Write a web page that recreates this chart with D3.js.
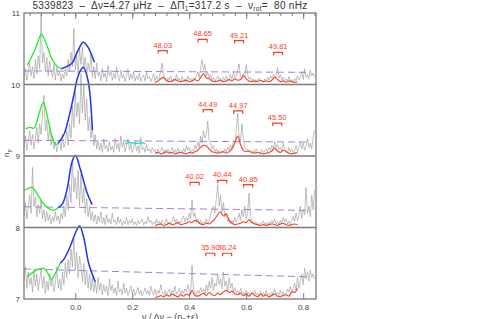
<!DOCTYPE html>
<html lang="en">
<head>
<meta charset="UTF-8">
<title>Period echelle panels</title>
<script src="https://cdn.jsdelivr.net/npm/d3@7"></script>
<style>
  body { margin: 0; background: #fff; }
  text { font-family: Helvetica, "Liberation Sans", Arial, sans-serif; }
</style>
</head>
<body>
<svg id="chart" width="480" height="319"></svg>
<script>
// grey spectrum, sampled from x = -0.18 in steps of 0.005 (height in units of one panel)
const gridStart = -0.18, gridStep = 0.005;
const grey10 = [
  0.10,0.22,0.06,0.18,0.30,0.12,0.25,0.08,0.35,0.15,
  0.40,0.22,1.00,0.30,0.45,0.18,0.38,0.12,0.33,0.20,
  0.10,0.28,0.06,0.24,0.12,0.18,0.05,0.15,0.08,0.22,
  0.12,0.35,0.18,0.45,0.25,0.78,0.20,0.40,0.15,0.50,
  0.28,0.52,0.22,0.38,0.12,0.30,0.18,0.42,0.10,0.25,
  0.08,0.30,0.12,0.18,0.05,0.22,0.10,0.16,0.04,0.26,
  0.12,0.20,0.06,0.16,0.08,0.24,0.10,0.05,0.20,0.09,
  0.14,0.04,0.12,0.22,0.06,0.15,0.08,0.18,0.05,0.12,
  0.07,0.16,0.04,0.10,0.13,0.05,0.18,0.08,0.11,0.04,
  0.09,0.15,0.05,0.12,0.07,0.10,0.18,0.30,0.12,0.08,
  0.04,0.10,0.06,0.12,0.03,0.08,0.05,0.14,0.06,0.09,
  0.04,0.11,0.05,0.08,0.03,0.12,0.06,0.09,0.04,0.10,
  0.07,0.12,0.18,0.10,0.22,0.35,0.20,0.28,0.12,0.18,
  0.08,0.14,0.05,0.10,0.04,0.08,0.12,0.05,0.09,0.03,
  0.10,0.06,0.12,0.05,0.08,0.14,0.07,0.18,0.10,0.12,
  0.20,0.29,0.12,0.08,0.15,0.10,0.28,0.14,0.07,0.10,
  0.05,0.08,0.03,0.07,0.04,0.09,0.05,0.06,0.03,0.08,
  0.05,0.10,0.06,0.12,0.08,0.14,0.10,0.12,0.24,0.09,
  0.14,0.06,0.10,0.04,0.08,0.05,0.11,0.04,0.07,0.03,
  0.08,0.05,0.12,0.06,0.10,0.18,0.07,0.22,0.10,0.14,
  0.08,0.20,0.12,0.16,0.10];
const grey9 = [
  0.12,0.28,0.08,0.22,0.35,0.15,0.30,0.10,0.25,0.40,
  0.18,0.45,0.30,0.60,0.85,0.35,0.50,0.22,0.40,0.15,
  0.28,0.10,0.20,0.06,0.15,0.22,0.08,0.30,0.12,0.18,
  0.35,0.15,0.45,0.25,0.70,0.40,0.90,0.55,0.75,0.45,
  1.15,0.60,1.00,0.50,0.80,0.35,0.55,0.25,0.40,0.15,
  0.30,0.10,0.22,0.08,0.18,0.05,0.24,0.10,0.15,0.06,
  0.20,0.08,0.14,0.05,0.25,0.10,0.18,0.06,0.28,0.12,
  0.20,0.06,0.15,0.24,0.08,0.18,0.05,0.12,0.20,0.07,
  0.14,0.04,0.26,0.09,0.12,0.05,0.16,0.07,0.10,0.04,
  0.12,0.06,0.09,0.03,0.10,0.05,0.08,0.12,0.04,0.09,
  0.05,0.10,0.03,0.07,0.12,0.05,0.09,0.04,0.11,0.06,
  0.08,0.04,0.10,0.06,0.14,0.08,0.12,0.05,0.09,0.07,
  0.15,0.10,0.20,0.12,0.28,0.18,0.35,0.25,0.30,0.49,
  0.22,0.18,0.10,0.14,0.06,0.10,0.05,0.08,0.04,0.07,
  0.05,0.10,0.06,0.12,0.08,0.15,0.10,0.22,0.18,0.35,
  0.60,0.28,0.20,0.45,0.25,0.12,0.08,0.10,0.05,0.07,
  0.04,0.08,0.05,0.10,0.04,0.06,0.03,0.09,0.05,0.07,
  0.10,0.06,0.12,0.08,0.15,0.10,0.20,0.12,0.16,0.09,
  0.12,0.06,0.18,0.10,0.08,0.04,0.12,0.06,0.10,0.05,
  0.08,0.15,0.06,0.12,0.20,0.10,0.18,0.08,0.14,0.24,
  0.12,0.18,0.10,0.26,0.36];
const grey8 = [
  0.18,0.35,0.12,0.28,0.45,0.20,0.84,0.30,0.42,0.15,
  0.32,0.20,0.38,0.12,0.25,0.08,0.22,0.10,0.18,0.05,
  0.15,0.08,0.22,0.10,0.16,0.05,0.20,0.12,0.30,0.15,
  0.45,0.25,0.60,0.35,0.95,0.50,0.70,0.40,0.80,0.30,
  0.75,0.35,0.55,0.20,0.40,0.15,0.30,0.10,0.22,0.08,
  0.18,0.05,0.16,0.08,0.22,0.06,0.14,0.04,0.18,0.07,
  0.12,0.05,0.20,0.08,0.10,0.04,0.15,0.06,0.12,0.03,
  0.09,0.05,0.14,0.04,0.10,0.06,0.12,0.04,0.08,0.03,
  0.10,0.05,0.09,0.12,0.04,0.08,0.05,0.15,0.07,0.10,
  0.04,0.08,0.05,0.12,0.06,0.09,0.04,0.10,0.07,0.05,
  0.12,0.06,0.08,0.04,0.10,0.15,0.07,0.12,0.05,0.09,
  0.06,0.12,0.16,0.08,0.14,0.10,0.20,0.12,0.39,0.15,
  0.20,0.08,0.12,0.05,0.10,0.04,0.08,0.06,0.12,0.05,
  0.10,0.18,0.25,0.30,0.20,0.40,0.60,0.30,0.45,0.22,
  0.35,0.15,0.20,0.08,0.12,0.05,0.10,0.06,0.14,0.08,
  0.12,0.20,0.10,0.25,0.15,0.30,0.12,0.20,0.48,0.14,
  0.10,0.06,0.08,0.04,0.07,0.03,0.06,0.05,0.09,0.04,
  0.07,0.03,0.08,0.05,0.10,0.06,0.12,0.05,0.08,0.04,
  0.10,0.06,0.14,0.08,0.12,0.05,0.09,0.04,0.10,0.15,
  0.08,0.20,0.10,0.16,0.30,0.12,0.25,0.18,0.56,0.20,
  0.30,0.15,0.45,0.25,0.52];
const grey7 = [
  0.25,0.45,0.15,0.38,0.20,0.30,0.10,0.42,0.18,0.35,
  0.12,0.28,0.40,0.15,0.32,0.08,0.25,0.12,0.35,0.18,
  0.30,0.10,0.22,0.45,0.15,0.28,0.12,0.38,0.20,0.50,
  0.30,0.55,0.35,0.70,0.45,0.85,0.40,0.65,0.30,0.60,
  0.45,0.25,0.50,0.20,0.40,0.15,0.35,0.12,0.30,0.10,
  0.25,0.08,0.30,0.12,0.22,0.06,0.20,0.10,0.18,0.05,
  0.28,0.12,0.20,0.08,0.16,0.05,0.25,0.10,0.14,0.06,
  0.22,0.08,0.15,0.05,0.12,0.18,0.08,0.14,0.05,0.10,
  0.16,0.06,0.12,0.04,0.10,0.15,0.07,0.12,0.05,0.18,
  0.10,0.06,0.14,0.05,0.12,0.08,0.20,0.10,0.06,0.12,
  0.05,0.10,0.14,0.06,0.12,0.08,0.18,0.07,0.10,0.15,
  0.06,0.12,0.08,0.14,0.10,0.20,0.12,0.08,0.47,0.14,
  0.10,0.06,0.12,0.08,0.16,0.10,0.14,0.06,0.20,0.12,
  0.25,0.15,0.30,0.12,0.22,0.18,0.35,0.20,0.28,0.14,
  0.38,0.18,0.25,0.12,0.30,0.15,0.22,0.10,0.16,0.08,
  0.12,0.06,0.15,0.08,0.10,0.05,0.12,0.07,0.09,0.04,
  0.10,0.06,0.12,0.05,0.08,0.04,0.11,0.06,0.09,0.05,
  0.12,0.06,0.08,0.04,0.10,0.05,0.14,0.07,0.09,0.05,
  0.12,0.06,0.10,0.05,0.08,0.14,0.10,0.18,0.08,0.15,
  0.22,0.12,0.30,0.15,0.25,0.35,0.20,0.43,0.28,0.38,
  0.25,0.40,0.30,0.35,0.28];

// smoothed red spectrum, x = 0.28 .. 0.78 step 0.01
const redStart = 0.28, redStep = 0.01;
const red10 = [0.03,0.05,0.08,0.10,0.06,0.04,0.05,0.07,0.05,0.04,
  0.05,0.06,0.04,0.05,0.07,0.05,0.10,0.15,0.09,0.08,
  0.05,0.04,0.05,0.06,0.04,0.05,0.07,0.05,0.08,0.06,
  0.07,0.12,0.08,0.05,0.04,0.05,0.04,0.06,0.04,0.05,
  0.04,0.06,0.10,0.07,0.04,0.05,0.03,0.05,0.04,0.03,0.04];
const red9 = [0.04,0.05,0.03,0.04,0.06,0.04,0.05,0.03,0.04,0.05,
  0.04,0.03,0.05,0.04,0.06,0.08,0.12,0.15,0.14,0.10,
  0.06,0.05,0.04,0.05,0.06,0.04,0.06,0.10,0.18,0.28,
  0.16,0.08,0.06,0.07,0.05,0.04,0.05,0.04,0.03,0.04,
  0.05,0.07,0.11,0.07,0.05,0.08,0.06,0.04,0.03,0.04,0.05];
const red8 = [0.03,0.04,0.05,0.03,0.04,0.06,0.04,0.05,0.07,0.04,
  0.05,0.06,0.08,0.07,0.10,0.08,0.05,0.04,0.06,0.05,
  0.08,0.12,0.18,0.22,0.16,0.19,0.10,0.06,0.04,0.05,
  0.06,0.08,0.07,0.11,0.07,0.05,0.04,0.03,0.04,0.03,
  0.04,0.05,0.04,0.03,0.05,0.06,0.04,0.03,0.04,0.05,0.04];
const red7 = [0.02,0.03,0.05,0.03,0.06,0.04,0.07,0.05,0.03,0.06,
  0.04,0.07,0.05,0.12,0.05,0.04,0.06,0.08,0.05,0.09,
  0.06,0.05,0.08,0.06,0.10,0.12,0.09,0.11,0.07,0.06,
  0.08,0.05,0.07,0.04,0.08,0.05,0.03,0.07,0.04,0.06,
  0.03,0.05,0.07,0.04,0.03,0.05,0.06,0.04,0.10,0.09,0.15];

// l=2 (green) and l=0 (blue) fits: [x, height]
const green10 = [[-0.168,0.27],[-0.14,0.50],[-0.119,0.70],[-0.10,0.55],[-0.08,0.34],[-0.06,0.24],[-0.049,0.22]];
const blue10  = [[-0.049,0.22],[-0.025,0.26],[-0.011,0.30],[0.01,0.48],[0.028,0.59],[0.045,0.52],[0.067,0.31]];
const green9  = [[-0.175,0.38],[-0.16,0.40],[-0.145,0.39],[-0.128,0.58],[-0.112,0.75],[-0.095,0.50],[-0.08,0.25],[-0.068,0.16],[-0.06,0.18]];
const blue9   = [[-0.06,0.18],[-0.04,0.30],[-0.025,0.50],[-0.005,0.85],[0.01,1.12],[0.028,1.24],[0.045,1.05],[0.06,0.36]];
const green8  = [[-0.178,0.52],[-0.152,0.56],[-0.135,0.48],[-0.115,0.35],[-0.095,0.27],[-0.076,0.24],[-0.059,0.28]];
const blue8   = [[-0.059,0.28],[-0.045,0.33],[-0.029,0.53],[-0.012,0.91],[0.0,1.01],[0.018,0.81],[0.041,0.49],[0.059,0.32]];
const green7  = [[-0.169,0.31],[-0.146,0.38],[-0.111,0.43],[-0.096,0.36],[-0.084,0.27],[-0.07,0.36],[-0.053,0.50]];
const blue7   = [[-0.053,0.50],[-0.041,0.55],[-0.018,0.73],[0.0,0.92],[0.015,1.02],[0.029,0.87],[0.047,0.50],[0.07,0.24]];
const cyan9   = [[0.175,0.17],[0.19,0.19],[0.205,0.18],[0.22,0.175],[0.235,0.185],[0.246,0.17]];

// threshold (dashed): height at left and right end
const dashX = [-0.18, 0.82];
const dash10 = [0.19, 0.17], dash9 = [0.22, 0.195], dash8 = [0.29, 0.24], dash7 = [0.42, 0.31];

// period labels (s) with bracket position [x, height]
const marks10 = [[0.307,0.475,"48.03"],[0.447,0.63,"48.65"],[0.575,0.615,"49.21"],[0.712,0.45,"49.81"]];
const marks9  = [[0.465,0.65,"44.49"],[0.572,0.63,"44.97"],[0.709,0.46,"45.50"]];
const marks8  = [[0.419,0.63,"40.02"],[0.516,0.66,"40.44"],[0.607,0.60,"40.85"]];
const marks7  = [[0.474,0.64,"35.90"],[0.533,0.64,"36.24"]];

const panels = [
  {n: 10, grey: grey10, red: red10, green: green10, blue: blue10, dash: dash10, marks: marks10},
  {n: 9,  grey: grey9,  red: red9,  green: green9,  blue: blue9,  dash: dash9,  marks: marks9, cyan: cyan9},
  {n: 8,  grey: grey8,  red: red8,  green: green8,  blue: blue8,  dash: dash8,  marks: marks8},
  {n: 7,  grey: grey7,  red: red7,  green: green7,  blue: blue7,  dash: dash7,  marks: marks7}
];

const xTicks = [0.0, 0.2, 0.4, 0.6, 0.8];
const yTicks = [7, 8, 9, 10, 11];

// layout
const svg = d3.select("#chart");
const mLeft = 24, mRight = 316, mTop = 13, mBottom = 299;
const x = d3.scaleLinear().domain([-0.18, 0.845]).range([mLeft, mRight]);
const y = d3.scaleLinear().domain([7, 11]).range([mBottom, mTop]);

const line = d3.line().x(d => x(d[0])).y(d => y(d[1]));
const smooth = d3.line().x(d => x(d[0])).y(d => y(d[1])).curve(d3.curveCatmullRom);

panels.forEach(p => {
  const g = svg.append("g");
  // grey spectrum
  const gpts = p.grey.map((v, i) => [gridStart + i * gridStep, p.n + v]);
  g.append("path").attr("d", line(gpts))
    .attr("fill", "none").attr("stroke", "#969696").attr("stroke-width", 0.6);
  // dashed threshold
  g.append("path").attr("d", line([[dashX[0], p.n + p.dash[0]], [dashX[1], p.n + p.dash[1]]]))
    .attr("fill", "none").attr("stroke", "#a37fdc").attr("stroke-width", 1)
    .attr("stroke-dasharray", "7,4");
  // smoothed red
  const rpts = p.red.map((v, i) => [redStart + i * redStep, p.n + v]);
  g.append("path").attr("d", smooth(rpts))
    .attr("fill", "none").attr("stroke", "#ff3b1f").attr("stroke-width", 1.1);
  // green and blue fits
  g.append("path").attr("d", smooth(p.green.map(d => [d[0], p.n + d[1]])))
    .attr("fill", "none").attr("stroke", "#22ee22").attr("stroke-width", 1.3);
  g.append("path").attr("d", smooth(p.blue.map(d => [d[0], p.n + d[1]])))
    .attr("fill", "none").attr("stroke", "#1f35e6").attr("stroke-width", 1.5);
  if (p.cyan) {
    g.append("path").attr("d", smooth(p.cyan.map(d => [d[0], p.n + d[1]])))
      .attr("fill", "none").attr("stroke", "#19e6c3").attr("stroke-width", 1.3);
  }
  // period brackets
  p.marks.forEach(m => {
    const cx = x(m[0]), cy = y(p.n + m[1]);
    g.append("path")
      .attr("d", `M${cx - 4.5},${cy + 3}V${cy}H${cx + 4.5}V${cy + 3}`)
      .attr("fill", "none").attr("stroke", "#ff3b1f").attr("stroke-width", 1.2);
    g.append("text").attr("x", cx).attr("y", cy - 3)
      .attr("text-anchor", "middle").attr("font-size", 7.5)
      .attr("fill", "#ff3b1f").text(m[2]);
  });
});

// frame and panel separators
svg.append("rect").attr("x", mLeft).attr("y", mTop)
  .attr("width", mRight - mLeft).attr("height", mBottom - mTop)
  .attr("fill", "none").attr("stroke", "#7a7a7a").attr("stroke-width", 1.3);
[8, 9, 10].forEach(n => {
  svg.append("line").attr("x1", mLeft).attr("x2", mRight)
    .attr("y1", y(n)).attr("y2", y(n))
    .attr("stroke", "#7a7a7a").attr("stroke-width", 1.3);
});

// x ticks (major 0.2, minor 0.04) on top and bottom
const minor = d3.range(-0.16, 0.845, 0.04);
svg.append("g").attr("transform", `translate(0,${mTop})`)
  .call(d3.axisBottom(x).tickValues(minor).tickSize(3).tickFormat(""))
  .call(s => s.select(".domain").remove());
svg.append("g").attr("transform", `translate(0,${mTop})`)
  .call(d3.axisBottom(x).tickValues(xTicks).tickSize(6).tickFormat(""))
  .call(s => s.select(".domain").remove());
svg.append("g").attr("transform", `translate(0,${mBottom})`)
  .call(d3.axisTop(x).tickValues(xTicks).tickSize(6).tickFormat(""))
  .call(s => s.select(".domain").remove());
const xb = svg.append("g").attr("transform", `translate(0,${mBottom})`)
  .call(d3.axisBottom(x).tickValues(xTicks).tickSize(0).tickPadding(5).tickFormat(d3.format(".1f")));
xb.select(".domain").remove();
xb.selectAll("text").attr("font-size", 8).attr("fill", "#444").attr("font-family", "Helvetica, 'Liberation Sans', Arial, sans-serif");
svg.selectAll(".tick line").attr("stroke", "#7a7a7a");

// y axis labels
const ya = svg.append("g").attr("transform", `translate(${mLeft},0)`)
  .call(d3.axisLeft(y).tickValues(yTicks).tickSize(0).tickPadding(4).tickFormat(d3.format("d")));
ya.select(".domain").remove();
ya.selectAll("text").attr("font-size", 8).attr("fill", "#444").attr("font-family", "Helvetica, 'Liberation Sans', Arial, sans-serif");

// axis titles
svg.append("text").attr("transform", "translate(9,153) rotate(-90)")
  .attr("text-anchor", "middle").attr("font-size", 8).attr("fill", "#444")
  .html('n<tspan font-size="6" dy="2">p</tspan>');
svg.append("text").attr("x", 170).attr("y", 320).attr("text-anchor", "middle")
  .attr("font-size", 9).attr("fill", "#444")
  .html('ν / Δν − (n<tspan font-size="6.5" dy="2">p</tspan><tspan dy="-2">+ε)</tspan>');

// title
svg.append("text").attr("x", 170).attr("y", 9).attr("text-anchor", "middle")
  .attr("font-size", 10).attr("letter-spacing", 0.3).attr("fill", "#333").style("white-space", "pre")
  .html('5339823  –  Δν=4.27 μHz  –  ΔΠ<tspan font-size="6.5" dy="2">1</tspan><tspan dy="-2">=317.2 s  –  ν</tspan><tspan font-size="6.5" dy="2">rot</tspan><tspan dy="-2">=  80 nHz</tspan>');
</script>
</body>
</html>
